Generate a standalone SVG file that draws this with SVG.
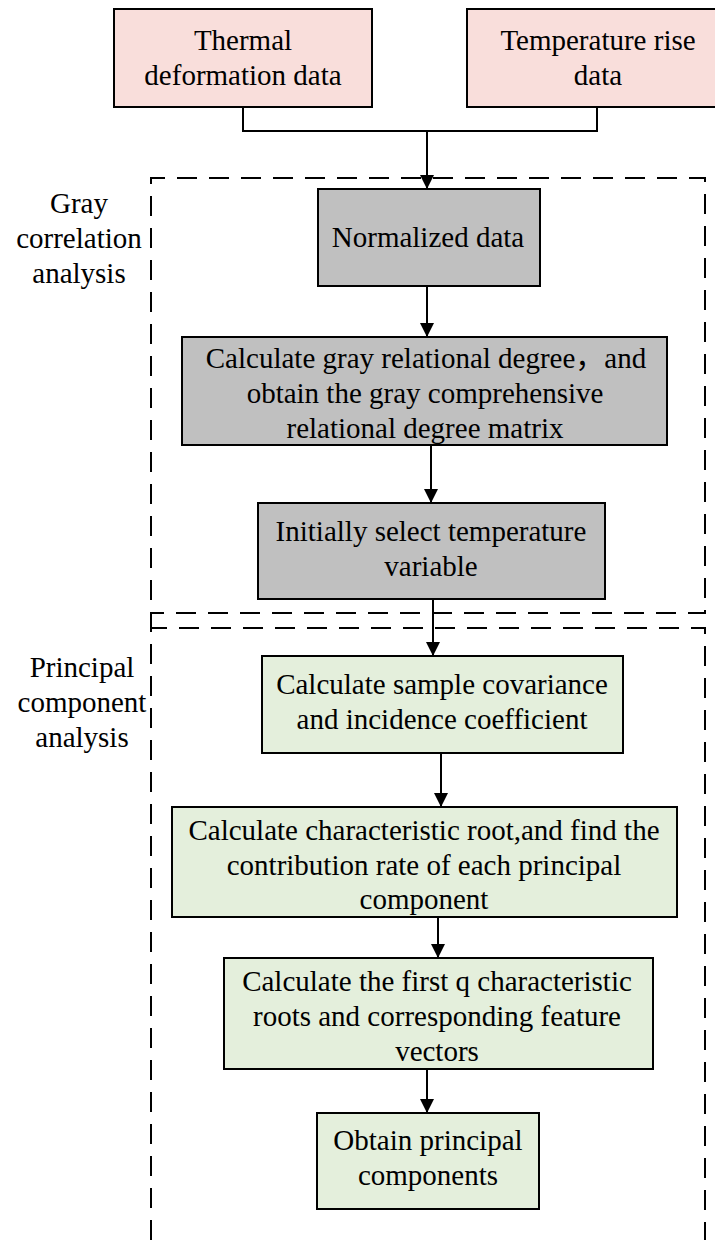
<svg xmlns="http://www.w3.org/2000/svg" width="715" height="1243" viewBox="0 0 715 1243">
  <defs>
    <marker id="arrow" markerWidth="14" markerHeight="14" refX="14" refY="7" orient="auto" markerUnits="userSpaceOnUse">
      <path d="M0,0 L14,7 L0,14 Z" fill="#000"/>
    </marker>
    <style>
      .box { stroke: #000; stroke-width: 2; }
      .input { fill: #f9dedb; }
      .gray { fill: #c0c0c0; }
      .green { fill: #e4efdc; }
      .lbl { font-size: 29px; fill: #000; text-anchor: middle; }
      .frame { fill: none; stroke: #000; stroke-width: 2; stroke-dasharray: 20 12; }
      .edge { fill: none; stroke: #000; stroke-width: 2; }
    </style>
  </defs>
  <rect width="715" height="1243" fill="#fff"/>

  <!-- dashed stage frames -->
  <g id="frames">
    <path class="frame" d="M151,1240 L151,178 L705,178 L705,613 L151,613"/>
    <path class="frame" d="M151,1240 L151,628 L705,628 L705,1240"/>
  </g>

  <g font-family="'Liberation Serif', 'Times New Roman', 'Noto Sans CJK SC', serif">
  <!-- stage labels -->
  <g id="label-gray">
    <text class="lbl" x="79" y="213">Gray</text>
    <text class="lbl" x="79" y="248">correlation</text>
    <text class="lbl" x="79" y="283">analysis</text>
  </g>
  <g id="label-pca">
    <text class="lbl" x="82" y="677">Principal</text>
    <text class="lbl" x="82" y="712">component</text>
    <text class="lbl" x="82" y="747">analysis</text>
  </g>

  <!-- connectors -->
  <g id="connectors">
    <path class="edge" d="M243,107 L243,131 L597,131 L597,107"/>
    <path class="edge" d="M427,131 L427,189" marker-end="url(#arrow)"/>
    <path class="edge" d="M427,286 L427,337" marker-end="url(#arrow)"/>
    <path class="edge" d="M431,445 L431,503" marker-end="url(#arrow)"/>
    <path class="edge" d="M433,599 L433,656" marker-end="url(#arrow)"/>
    <path class="edge" d="M441,753 L441,807" marker-end="url(#arrow)"/>
    <path class="edge" d="M438,917 L438,958" marker-end="url(#arrow)"/>
    <path class="edge" d="M427,1069 L427,1113" marker-end="url(#arrow)"/>
  </g>

  <g id="thermal">
    <rect class="box input" x="114" y="9" width="258" height="98"/>
    <text class="lbl" x="243" y="50">Thermal</text>
    <text class="lbl" x="243" y="85">deformation data</text>
  </g>
  <g id="temperature">
    <rect class="box input" x="467" y="9" width="260" height="98"/>
    <text class="lbl" x="598" y="50">Temperature rise</text>
    <text class="lbl" x="598" y="85">data</text>
  </g>

  <g id="normalized">
    <rect class="box gray" x="318" y="189" width="222" height="97"/>
    <text class="lbl" x="428" y="247">Normalized data</text>
  </g>
  <g id="relational">
    <rect class="box gray" x="182" y="337" width="485" height="108"/>
    <text class="lbl" x="426" y="368">Calculate gray relational degree，and</text>
    <text class="lbl" x="425" y="403">obtain the gray comprehensive</text>
    <text class="lbl" x="425" y="438">relational degree matrix</text>
  </g>
  <g id="select">
    <rect class="box gray" x="258" y="503" width="347" height="96"/>
    <text class="lbl" x="431" y="541">Initially select temperature</text>
    <text class="lbl" x="431" y="576">variable</text>
  </g>

  <g id="covariance">
    <rect class="box green" x="262" y="656" width="361" height="97"/>
    <text class="lbl" x="442" y="694">Calculate sample covariance</text>
    <text class="lbl" x="442" y="729">and incidence coefficient</text>
  </g>
  <g id="root">
    <rect class="box green" x="172" y="807" width="505" height="110"/>
    <text class="lbl" x="424" y="840">Calculate characteristic root,and find the</text>
    <text class="lbl" x="424" y="875">contribution rate of each principal</text>
    <text class="lbl" x="424" y="909">component</text>
  </g>
  <g id="firstq">
    <rect class="box green" x="224" y="958" width="429" height="111"/>
    <text class="lbl" x="437" y="991">Calculate the first q characteristic</text>
    <text class="lbl" x="437" y="1026">roots and corresponding feature</text>
    <text class="lbl" x="437" y="1061">vectors</text>
  </g>
  <g id="obtain">
    <rect class="box green" x="317" y="1113" width="222" height="96"/>
    <text class="lbl" x="428" y="1150">Obtain principal</text>
    <text class="lbl" x="428" y="1185">components</text>
  </g>
  </g>
</svg>
